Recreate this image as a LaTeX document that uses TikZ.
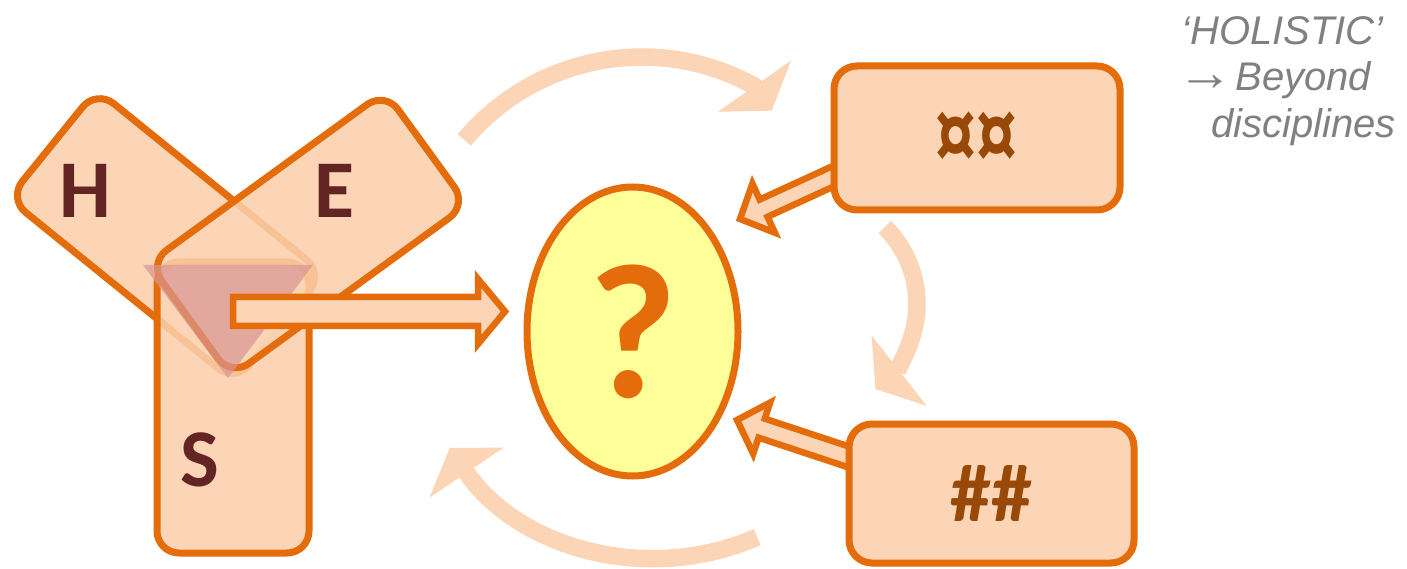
\documentclass[tikz,border=0pt]{standalone}
\usepackage{fontspec}
\setmainfont{Carlito}
\newfontfamily\notefont{Liberation Sans}
\usepackage{tikz}
\usetikzlibrary{
	shapes.geometric,
	arrows.meta,
	calc
}

\definecolor{peach}{HTML}{FBD5B5}
\definecolor{rust}{HTML}{E46C0A}
\definecolor{lemon}{HTML}{FFFF99}
\definecolor{maroon}{HTML}{632523}
\definecolor{bronze}{HTML}{984807}
\definecolor{rosy}{HTML}{D99694}
\definecolor{notegray}{HTML}{808080}

\begin{document}
\begin{tikzpicture}[x=0.5pt, y=0.5pt,
    petal/.style={draw=rust, line width=3.5pt, fill=peach, fill opacity=0.82, rounded corners=11pt, inner sep=0pt},
    petalbase/.style={fill=peach, rounded corners=11pt, inner sep=0pt},
    letter/.style={font=\fontsize{41}{41}\selectfont\bfseries, text=maroon, inner sep=0pt},
    topic/.style={draw=rust, line width=3.5pt, fill=peach, rounded corners=11.5pt, font=\fontsize{41}{41}\selectfont\bfseries, text=bronze},
    blockarr/.style={draw=rust, line width=3.25pt, fill=peach},
    cyclearr/.style={draw=peach, line width=8.75pt, -{Triangle[width=44pt, length=15pt]}}
]
\useasboundingbox (0,0) rectangle (1407,568);

% Helper macro for a block arrow with an outlined head
% Arguments: tail, tip, half shaft, half head, head length
\def\blockarrow#1#2#3#4#5{
    \coordinate (#2-hb) at ($(#2)!#5!(#1)$);
    \draw[blockarr] ($(#1)!#3!90:(#2)$) -- ($(#2-hb)!#3!-90:(#1)$)
        -- ($(#2-hb)!#4!-90:(#1)$) -- (#2) -- ($(#2-hb)!#4!90:(#1)$)
        -- ($(#2-hb)!#3!90:(#1)$) -- ($(#1)!#3!-90:(#2)$) -- cycle;
}

% Cycle arrows in the background
\coordinate (topstart) at (464.3,428.1);
\draw[cyclearr] (topstart) arc[start angle=140, end angle=61, radius=232] -- ++(-55:30);
\coordinate (rightstart) at (884.8,340.9);
\draw[cyclearr] (rightstart) arc[start angle=45.4, end angle=-52, radius=108];
\coordinate (bottomstart) at (757.1,30.9);
\draw[cyclearr] (bottomstart) arc[start angle=-66.4, end angle=-146, radius=250];

% Petals: opaque fill first, then outlines with see-through fill
\foreach \pp/\pr/\pw/\ph in {{(166,332)}/-39/146/70, {(233,160.5)}/0/76/145.5, {(308,334)}/36/146/70}
    \node[petalbase, rotate=\pr, minimum width=\pw pt, minimum height=\ph pt] at \pp {};
\node[petal, rotate=-39, minimum width=146pt, minimum height=70pt] (hpetal) at (166,332) {};
\node[petal, minimum width=76pt, minimum height=145.5pt] (spetal) at (233,160.5) {};
\node[petal, rotate=36, minimum width=146pt, minimum height=70pt] (epetal) at (308,334) {};

% Overlap triangle
\fill[rosy, fill opacity=0.7] (143,303) -- (313,303) -- (228,190) -- cycle;

% Letters
\node[letter] (hlet) at (85,377) {H};
\node[letter] (elet) at (334,377) {E};
\node[letter] (slet) at (200,108) {S};

% Block arrows
\coordinate (triout) at (233,256.5);
\coordinate (questin) at (505,256.5);
\blockarrow{triout}{questin}{7.25pt}{16.25pt}{13.5pt}
\coordinate (xtail) at (860,404);
\coordinate (xtip) at (740,349);
\blockarrow{xtail}{xtip}{4.75pt}{13.5pt}{13pt}
\coordinate (htail) at (870,104);
\coordinate (htip) at (737,148);
\blockarrow{htail}{htip}{5pt}{13.5pt}{13pt}

% Question
\node[ellipse, draw=rust, line width=3.5pt, fill=lemon, minimum width=105.5pt, minimum height=144.5pt,
    inner sep=0pt, text=rust, font=\fontsize{96}{96}\selectfont\bfseries] (quest) at (632.5,236.5) {?};

% Boxes
\node[topic, minimum width=143pt, minimum height=72pt] (xbox) at (977,430) {};
\node[text=bronze, font=\fontsize{41}{41}\selectfont\bfseries, inner sep=0pt] (xlet) at (976,427) {\scalebox{1}[1.3]{¤¤}};
\node[topic, minimum width=142.5pt, minimum height=69.5pt] (hbox) at (991.5,74.5) {\#\#};

% Note
\node[font=\notefont\itshape\fontsize{20}{23.25}\selectfont, text=notegray, align=left,
    anchor=north west, inner sep=0pt] (note) at (1181,552)
    {‘HOLISTIC’\\\hspace*{-2pt}\scalebox{1.4}[1.3]{→}\hspace{1pt}Beyond\\\hspace*{15pt}disciplines};

\end{tikzpicture}
\end{document}
